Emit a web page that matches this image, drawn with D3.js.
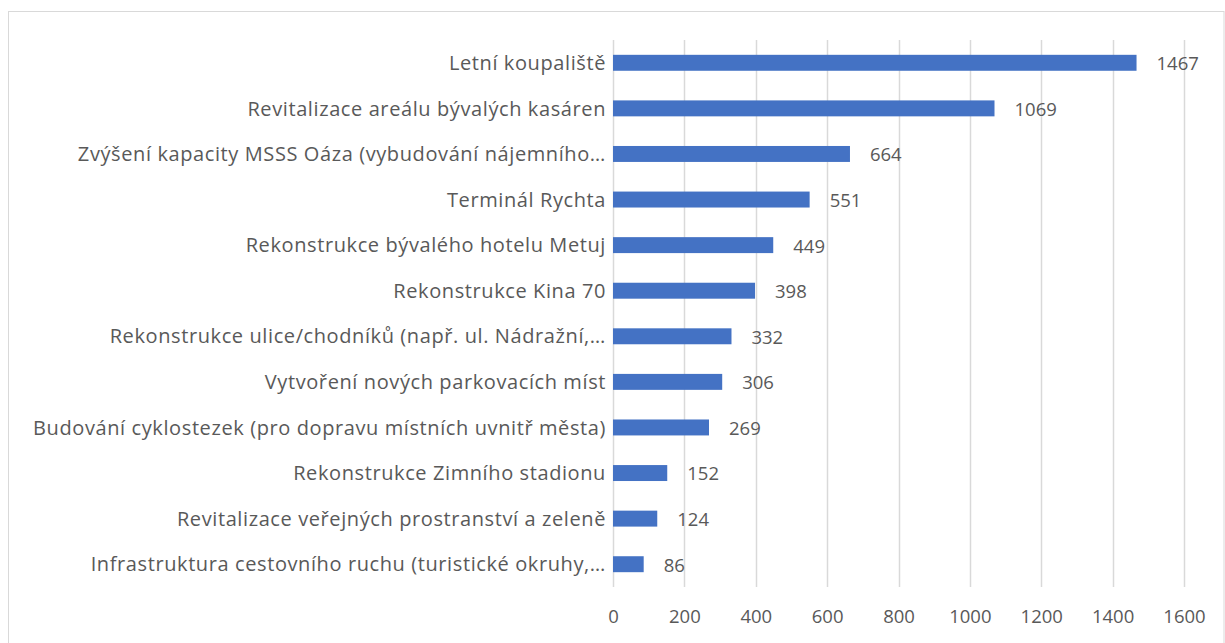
<!DOCTYPE html>
<html>
<head>
<meta charset="utf-8">
<script src="https://cdn.jsdelivr.net/npm/d3@7"></script>
<style>
  html, body { margin: 0; padding: 0; background: #fff; }
  svg { display: block; }
  text { font-family: "Open Sans", "Noto Sans", sans-serif; fill: #595959; }
</style>
</head>
<body>
<svg id="chart" width="1225" height="643"></svg>
<script>
// Projects and the number of votes each received
const categories = [
  "Letní koupaliště",
  "Revitalizace areálu bývalých kasáren",
  "Zvýšení kapacity MSSS Oáza (vybudování nájemního…",
  "Terminál Rychta",
  "Rekonstrukce bývalého hotelu Metuj",
  "Rekonstrukce Kina 70",
  "Rekonstrukce ulice/chodníků (např. ul. Nádražní,…",
  "Vytvoření nových parkovacích míst",
  "Budování cyklostezek (pro dopravu místních uvnitř města)",
  "Rekonstrukce Zimního stadionu",
  "Revitalizace veřejných prostranství a zeleně",
  "Infrastruktura cestovního ruchu (turistické okruhy,…"
];
const votes = [1467, 1069, 664, 551, 449, 398, 332, 306, 269, 152, 124, 86];
const xTicks = [0, 200, 400, 600, 800, 1000, 1200, 1400, 1600];

const svg = d3.select("#chart");
const W = 1225, H = 643;

// Chart area frame
svg.append("rect")
  .attr("x", 8.5).attr("y", 11.5)
  .attr("width", W - 9 - 0.5).attr("height", H + 20)
  .attr("fill", "#fff").attr("stroke", "#d9d9d9").attr("stroke-width", 1);

const plot = { left: 613, right: 1184, top: 40, bottom: 587 };

const x = d3.scaleLinear().domain([0, 1600]).range([plot.left, plot.right]);
const y = d3.scaleBand().domain(categories).range([plot.top, plot.bottom]).paddingInner(0.65).paddingOuter(0.325);

// Vertical gridlines
svg.append("g")
  .selectAll("line")
  .data(xTicks)
  .join("line")
  .attr("x1", d => Math.round(x(d)) + 0.5)
  .attr("x2", d => Math.round(x(d)) + 0.5)
  .attr("y1", plot.top)
  .attr("y2", plot.bottom)
  .attr("stroke", "#d9d9d9")
  .attr("stroke-width", 1.5);

// Bars
svg.append("g")
  .selectAll("rect")
  .data(votes)
  .join("rect")
  .attr("x", x(0))
  .attr("y", (d, i) => y(categories[i]))
  .attr("width", d => x(d) - x(0))
  .attr("height", y.bandwidth())
  .attr("fill", "#4472c4");

// Value labels
svg.append("g")
  .selectAll("text")
  .data(votes)
  .join("text")
  .attr("x", d => x(d) + 20)
  .attr("y", (d, i) => y(categories[i]) + y.bandwidth() / 2)
  .attr("dy", "0.4em")
  .attr("font-size", 18.5)
  .text(d => d);

// Category axis
const yAxis = d3.axisLeft(y).tickSize(0).tickPadding(7);
const yg = svg.append("g").attr("transform", `translate(${plot.left},0)`).call(yAxis);
yg.select(".domain").remove();
yg.selectAll("text")
  .attr("font-size", 20)
  .attr("letter-spacing", "0.6px")
  .attr("font-family", null)
  .attr("fill", null)
  .attr("dy", "0.36em");

// Value axis
const xAxis = d3.axisBottom(x).tickValues(xTicks).tickFormat(d3.format("d")).tickSize(0).tickPadding(23);
const xg = svg.append("g").attr("transform", `translate(0,${plot.bottom})`).call(xAxis);
xg.select(".domain").remove();
xg.selectAll("text")
  .attr("font-size", 18.5)
  .attr("font-family", null)
  .attr("fill", null);
</script>
</body>
</html>
